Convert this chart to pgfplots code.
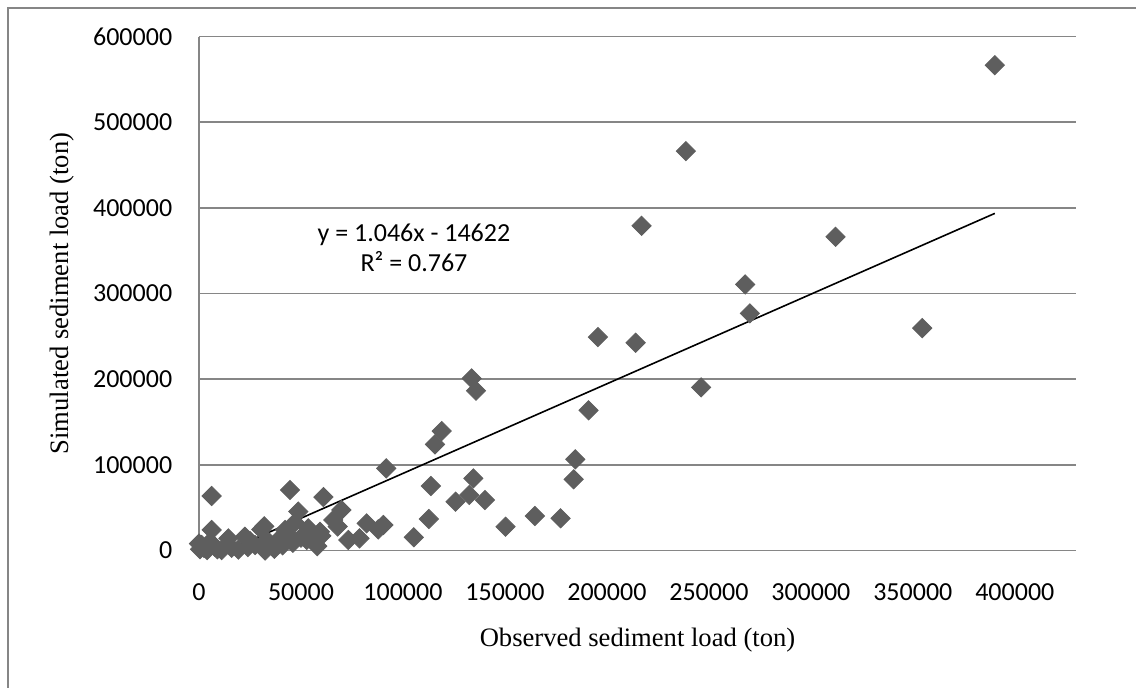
\documentclass[border=0pt]{standalone}
\usepackage{fontspec}
\setmainfont{Liberation Serif}
\newfontfamily\calibri{Carlito}
\usepackage{pgfplots}
\pgfplotsset{compat=1.18}
\definecolor{gridgray}{HTML}{868686}
\definecolor{markgray}{HTML}{5E5E5E}
\pgfplotstableread{
X Y
390200 566500
238700 466200
217000 379000
312100 366200
267800 310600
270100 276800
354600 259600
195600 249100
214100 242500
246200 190400
191000 163600
184500 106400
183700 83100
133700 200900
135800 186500
119000 139400
115700 123900
113700 75300
134500 84200
132500 64800
125800 57000
140200 58900
112700 36800
150300 27800
164700 40300
177300 37600
105300 15400
91800 95900
90400 29800
87900 24700
82200 31700
78700 14200
73200 12300
69800 47300
65800 35600
61000 62400
59300 21900
53600 25900
52800 12300
48700 45500
47000 32500
44600 70600
44600 16100
42200 24000
38900 12300
34800 6400
33200 12300
32000 28200
30500 24500
32400 0
27500 6400
22500 16100
19300 1000
14400 14200
11100 500
7800 4400
6200 63600
6200 24000
5400 10000
1300 6400
500 1500
0 8000
2500 3000
4000 500
9000 1500
16000 3000
24000 4000
37000 2000
41000 6000
46000 9000
50000 15000
56000 19000
60000 17000
68000 28000
58000 5000
25000 11000
}\obsdata
\begin{document}
\begin{tikzpicture}
\useasboundingbox (-99.5pt,-68.25pt) rectangle (468.5pt,275.25pt);
\draw[gridgray, line width=0.75pt] (-95.5pt,-80pt) -- (-95.5pt,271.25pt) -- (480pt,271.25pt);
\begin{axis}[
  at={(0pt,0pt)}, anchor=south west, scale only axis,
  width=438.5pt, height=257pt,
  xmin=0, xmax=430000, ymin=0, ymax=600000,
  xtick={0,50000,...,400000}, ytick={0,100000,...,600000},
  axis x line*=bottom, axis y line*=left,
  axis line style={gridgray, line width=0.8pt, -},
  ymajorgrids, grid style={gridgray, line width=0.8pt},
  major tick length=0pt,
  scaled ticks=false,
  /pgf/number format/fixed, /pgf/number format/1000 sep={},
  /pgf/number format/assume math mode=true,
  tick label style={font=\calibri\fontsize{13}{15}\selectfont, inner sep=0pt},
  xticklabel style={anchor=center, yshift=-20.75pt},
  yticklabel style={anchor=east, xshift=-13.2pt},
  label style={font=\fontsize{13.3}{15}\selectfont},
  xlabel={Observed sediment load (ton)},
  ylabel={Simulated sediment load (ton)},
  xlabel style={at={(axis description cs:0.5,0)}, anchor=center, yshift=-44.75pt},
  ylabel style={at={(axis description cs:-0.1562,0.5)}, anchor=center, rotate=0},
]
\addplot[only marks, mark=square*, mark size=3.4pt, color=markgray,
  mark options={rotate=45, fill=markgray, draw=none}] table[x=X, y=Y] {\obsdata};
\addplot[black, line width=0.8pt, no marks] coordinates {(0,-14622) (390200,393527)};
\node[font=\calibri\fontsize{13}{15}\selectfont, align=center] at (axis cs:105400,353000) {y = 1.046x - 14622\\R² = 0.767};
\end{axis}
\end{tikzpicture}
\end{document}
